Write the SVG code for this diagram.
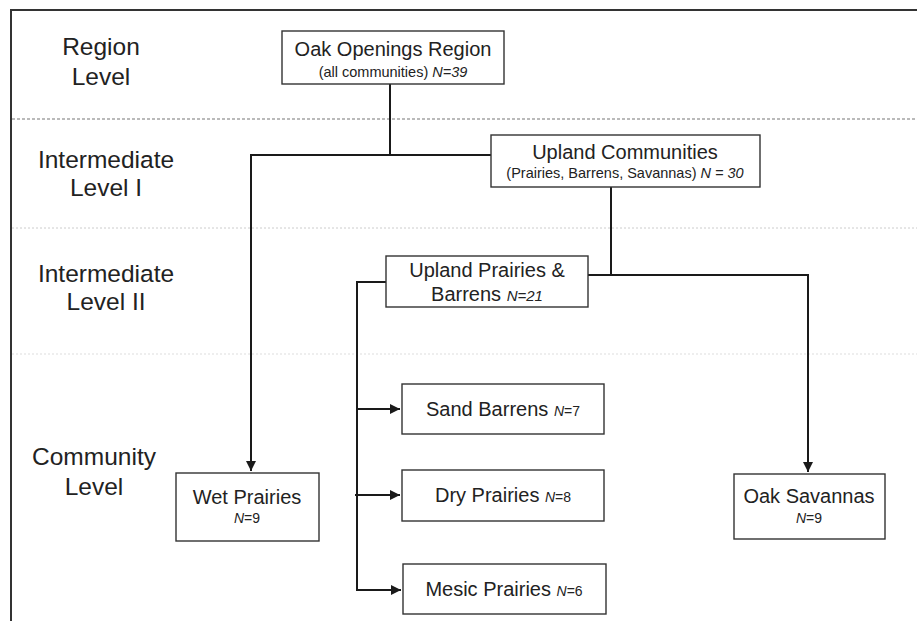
<svg xmlns="http://www.w3.org/2000/svg" width="917" height="621" viewBox="0 0 917 621">
<style>
text{font-family:"Liberation Sans",Arial,sans-serif;fill:#222;}
.lvl{font-size:24.5px;text-anchor:middle;}
.t{font-size:20px;text-anchor:middle;}
.s{font-size:14.5px;}
.n{font-size:14px;}
.i{font-style:italic;}
.box{fill:#fff;stroke:#333;stroke-width:1.4;}
.con{fill:none;stroke:#1a1a1a;stroke-width:2;}
</style>
<defs>
<marker id="ah" viewBox="0 0 10 10" refX="10" refY="5" markerWidth="5" markerHeight="5" orient="auto" markerUnits="strokeWidth">
<path d="M0,0 L10,5 L0,10 z" fill="#1a1a1a"/>
</marker>
</defs>
<rect width="917" height="621" fill="#fff"/>
<g id="frame">
<path d="M11,621 V10 H917" fill="none" stroke="#333" stroke-width="2"/>
<line x1="12" y1="119" x2="917" y2="119" stroke="#777" stroke-width="1.2" stroke-dasharray="3,2"/>
<line x1="12" y1="228" x2="917" y2="228" stroke="#ccc" stroke-width="1" stroke-dasharray="2,2"/>
<line x1="12" y1="354" x2="917" y2="354" stroke="#ddd" stroke-width="1" stroke-dasharray="2,2"/>
</g>
<g id="levels">
<text class="lvl" x="101" y="55">Region</text>
<text class="lvl" x="101" y="85">Level</text>
<text class="lvl" x="106" y="168">Intermediate</text>
<text class="lvl" x="106" y="196">Level I</text>
<text class="lvl" x="106" y="282">Intermediate</text>
<text class="lvl" x="106" y="310">Level II</text>
<text class="lvl" x="94" y="465">Community</text>
<text class="lvl" x="94" y="495">Level</text>
</g>
<g id="connectors">
<path class="con" d="M390,84 V155 H491"/>
<path class="con" d="M390,155 H251 V471" marker-end="url(#ah)"/>
<path class="con" d="M611,187 V275"/>
<path class="con" d="M588,275 H808 V472" marker-end="url(#ah)"/>
<path class="con" d="M386,282 H357 V590 H401" marker-end="url(#ah)"/>
<path class="con" d="M357,409 H400" marker-end="url(#ah)"/>
<path class="con" d="M355,495 H400" marker-end="url(#ah)"/>
</g>
<g id="oak-openings">
<rect class="box" x="282" y="31" width="222" height="53"/>
<text class="t" x="393" y="56">Oak Openings Region</text>
<text class="t s" x="393" y="77">(all communities) <tspan class="i">N=39</tspan></text>
</g>
<g id="upland-communities">
<rect class="box" x="491" y="135" width="269" height="52"/>
<text class="t" x="625" y="159">Upland Communities</text>
<text class="t s" x="625" y="178">(Prairies, Barrens, Savannas) <tspan class="i">N = 30</tspan></text>
</g>
<g id="upland-prairies-barrens">
<rect class="box" x="386" y="256" width="202" height="51"/>
<text class="t" x="487" y="277">Upland Prairies &amp;</text>
<text class="t" x="487" y="301">Barrens <tspan class="i" font-size="15">N=21</tspan></text>
</g>
<g id="wet-prairies">
<rect class="box" x="176" y="473" width="143" height="68"/>
<text class="t" x="247" y="504">Wet Prairies</text>
<text class="t n" x="247" y="523"><tspan class="i">N</tspan>=9</text>
</g>
<g id="sand-barrens">
<rect class="box" x="402" y="384" width="202" height="50"/>
<text class="t" x="503" y="416">Sand Barrens <tspan class="n"><tspan class="i">N</tspan>=7</tspan></text>
</g>
<g id="dry-prairies">
<rect class="box" x="402" y="470" width="202" height="51"/>
<text class="t" x="503" y="502">Dry Prairies <tspan class="n"><tspan class="i">N</tspan>=8</tspan></text>
</g>
<g id="mesic-prairies">
<rect class="box" x="403" y="564" width="203" height="50"/>
<text class="t" x="504" y="596">Mesic Prairies <tspan class="n"><tspan class="i">N</tspan>=6</tspan></text>
</g>
<g id="oak-savannas">
<rect class="box" x="734" y="474" width="151" height="65"/>
<text class="t" x="809" y="503">Oak Savannas</text>
<text class="t n" x="809" y="523"><tspan class="i">N</tspan>=9</text>
</g>
</svg>
